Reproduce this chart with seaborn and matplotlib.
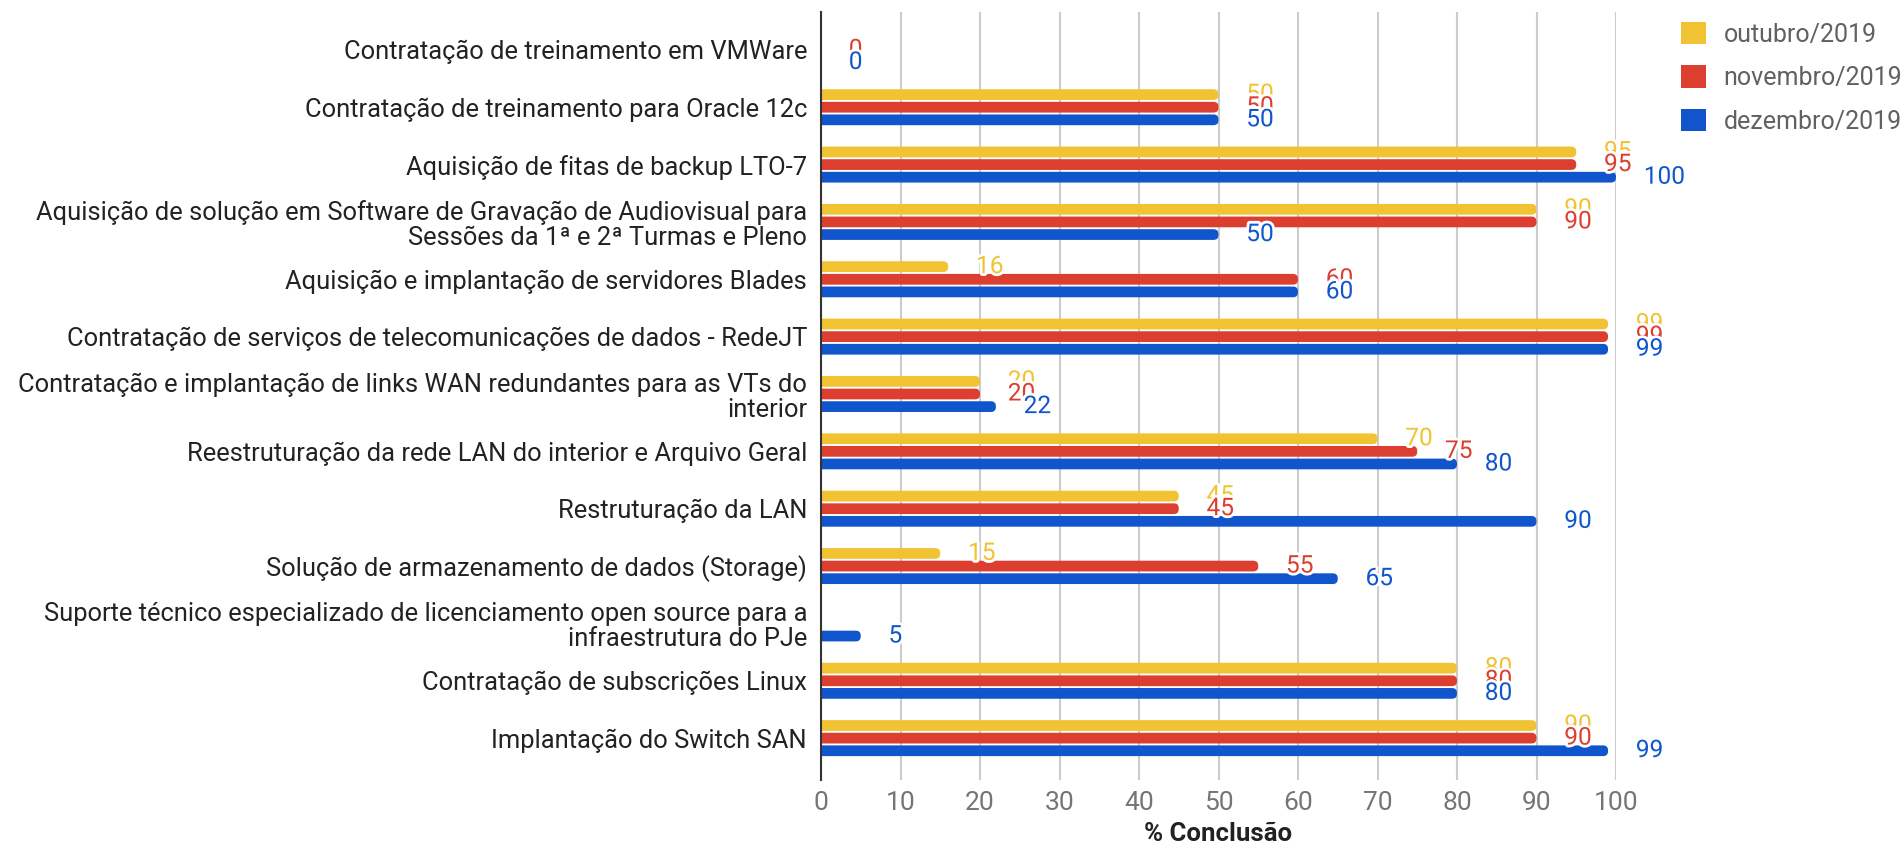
import seaborn as sns
import matplotlib.pyplot as plt
import matplotlib.patheffects as pe
from matplotlib.patches import FancyBboxPatch, Patch
import numpy as np
import pandas as pd

CATEGORIES = [
    'Contratação de treinamento em VMWare',
    'Contratação de treinamento para Oracle 12c',
    'Aquisição de fitas de backup LTO-7',
    'Aquisição de solução em Software de Gravação de Audiovisual para\nSessões da 1ª e 2ª Turmas e Pleno',
    'Aquisição e implantação de servidores Blades',
    'Contratação de serviços de telecomunicações de dados - RedeJT',
    'Contratação e implantação de links WAN redundantes para as VTs do\ninterior',
    'Reestruturação da rede LAN do interior e Arquivo Geral',
    'Restruturação da LAN',
    'Solução de armazenamento de dados (Storage)',
    'Suporte técnico especializado de licenciamento open source para a\ninfraestrutura do PJe',
    'Contratação de subscrições Linux',
    'Implantação do Switch SAN',
]
MONTHS = ['outubro/2019', 'novembro/2019', 'dezembro/2019']
OUTUBRO = [np.nan, 50, 95, 90, 16, 99, 20, 70, 45, 15, np.nan, 80, 90]
NOVEMBRO = [0, 50, 95, 90, 60, 99, 20, 75, 45, 55, np.nan, 80, 90]
DEZEMBRO = [0, 50, 100, 50, 60, 99, 22, 80, 90, 65, 5, 80, 99]
COLORS = ['#F1C232', '#DC3E30', '#1155CC']
XTICKS = list(range(0, 101, 10))

rows = []
for month, vals in zip(MONTHS, [OUTUBRO, NOVEMBRO, DEZEMBRO]):
    for cat, v in zip(CATEGORIES, vals):
        rows.append({'cat': cat, 'month': month, 'value': v})
df = pd.DataFrame(rows).dropna()

sns.set_style('white')
plt.rcParams['font.family'] = ['Roboto', 'DejaVu Sans']

fig = plt.figure(figsize=(19.01, 8.47), dpi=100)
ax = fig.add_axes([821 / 1901, 1 - 780 / 847, (1616 - 821) / 1901, (780 - 12) / 847])

sns.barplot(data=df, x='value', y='cat', hue='month', order=CATEGORIES, hue_order=MONTHS,
            palette=COLORS, saturation=1, orient='h', width=0.66, gap=0.15, ax=ax, legend=False)

ax.set_xlim(0, 100)
ax.set_ylim(12.73, -0.66)

# rounded bar ends (x px per unit ~7.95, y px per unit ~57.3)
x_px = 795 / 100
y_px = 768 / 13.39
radius = 5 / x_px
for patch in list(ax.patches):
    x, y = patch.get_x(), patch.get_y()
    w, h = patch.get_width(), patch.get_height()
    patch.set_visible(False)
    if not w > 0:
        continue
    box = FancyBboxPatch((x - 1.0, y), w + 1.0, h,
                         boxstyle=f'round,pad=0,rounding_size={radius}',
                         mutation_aspect=x_px / y_px,
                         facecolor=patch.get_facecolor(), edgecolor='none', zorder=2)
    ax.add_patch(box)

halo = [pe.withStroke(linewidth=4, foreground='white')]
for cont, color in zip(ax.containers, COLORS):
    texts = ax.bar_label(cont, fmt='%g', padding=20, color=color, fontsize=17.6)
    for t in texts:
        t.set_path_effects(halo)

ax.set_xticks(XTICKS)
ax.xaxis.grid(True, color='#CCCCCC', linewidth=1.5)
ax.set_axisbelow(True)
for s in ['top', 'right', 'bottom']:
    ax.spines[s].set_visible(False)
ax.spines['left'].set_color('#333333')
ax.spines['left'].set_linewidth(1.5)
ax.spines['left'].set_zorder(3)
ax.tick_params(axis='x', length=0, pad=8, labelsize=19, labelcolor='#757575')
ax.tick_params(axis='y', length=0, pad=10, labelsize=18.4, labelcolor='#222222')
for lbl in ax.get_yticklabels():
    lbl.set_linespacing(1.05)
ax.set_ylabel('')
ax.set_xlabel('% Conclusão', fontsize=18.5, fontweight='bold', color='#222222', labelpad=5)

handles = [Patch(facecolor=c, edgecolor='none') for c in COLORS]
ax.legend(handles, MONTHS, loc='upper left', bbox_to_anchor=(1671 / 1901, 1 - 12 / 847),
          bbox_transform=fig.transFigure, frameon=False, fontsize=18, labelcolor='#616161',
          handlelength=1.0, handleheight=1.0, handletextpad=0.7, labelspacing=0.75, borderaxespad=0)

fig.savefig('out.png', dpi=100)
